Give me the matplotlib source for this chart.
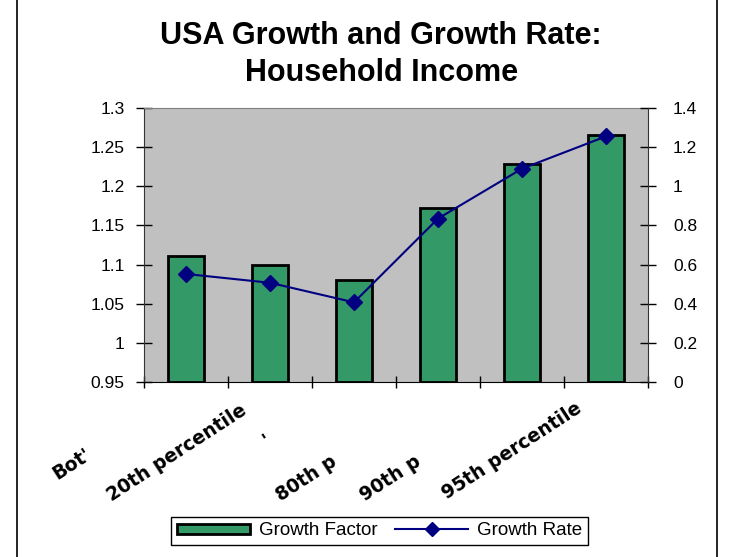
import matplotlib.pyplot as plt
import matplotlib.patches as mpatches
from matplotlib.lines import Line2D
from matplotlib import transforms

plt.rcParams['font.family'] = ['Liberation Sans', 'DejaVu Sans']

# 数据
categories = ["Bot'", "20th percentile", "'", "80th p", "90th p", "95th percentile"]
growth_factor = [1.111, 1.100, 1.080, 1.172, 1.228, 1.266]
growth_rate = [0.552, 0.507, 0.407, 0.835, 1.090, 1.255]
left_ticks = [0.95, 1, 1.05, 1.1, 1.15, 1.2, 1.25, 1.3]
right_ticks = [0, 0.2, 0.4, 0.6, 0.8, 1, 1.2, 1.4]

# 分类标签起点相对刻度的偏移(像素)
label_dx = [-129, -158, -87, -157, -157, -159]
label_dy = [-98, -120, -65, -120, -120, -118]

fig = plt.figure(figsize=(7.36, 5.57), dpi=100)
fig.patch.set_facecolor('white')

# 外框
frame = mpatches.Rectangle((17 / 736, -0.05), 700 / 736, 1.2, transform=fig.transFigure,
                           fill=False, edgecolor='black', linewidth=1.2)
fig.patches.append(frame)

ax = fig.add_axes([144 / 736, (557 - 382) / 557, 504 / 736, 274 / 557])
ax.set_facecolor('#C0C0C0')
x = list(range(len(categories)))
ax.bar(x, [v - 0.95 for v in growth_factor], bottom=0.95, width=0.42,
       color='#339966', edgecolor='black', linewidth=2, zorder=2)
ax.set_ylim(0.95, 1.3)
ax.set_xlim(-0.5, len(categories) - 0.5)
ax.set_yticks(left_ticks)
ax.set_yticklabels([f'{t:g}' for t in left_ticks])
ax.set_xticks([i + 0.5 for i in range(-1, len(categories))])
ax.set_xticklabels([])
ax.tick_params(axis='y', direction='inout', length=12, width=1, labelsize=12.5, pad=8)
ax.tick_params(axis='x', direction='inout', length=8, width=1)
ax.spines['right'].set_visible(False)
ax.spines['left'].set_color('#333333')
ax.spines['bottom'].set_color('black')
ax.spines['top'].set_color('#808080')

ax2 = ax.twinx()
ax2.plot(x, growth_rate, color='#000080', linewidth=1.5, marker='D', markersize=8,
         markerfacecolor='#000080', markeredgecolor='#000080', zorder=3)
ax2.set_ylim(0, 1.4)
ax2.set_yticks(right_ticks)
ax2.set_yticklabels([f'{t:g}' for t in right_ticks])
ax2.tick_params(axis='y', direction='inout', length=12, width=1, labelsize=12.5, pad=12)
for s in ['top', 'left', 'bottom']:
    ax2.spines[s].set_visible(False)
ax2.spines['right'].set_color('#333333')

# 斜置的分类标签
trans = transforms.blended_transform_factory(ax.transData, ax.transAxes)
for i, lab in enumerate(categories):
    ax.annotate(lab, xy=(i, 0), xycoords=trans,
                xytext=(label_dx[i], label_dy[i]), textcoords='offset pixels',
                rotation=33, ha='left', va='baseline', rotation_mode='anchor',
                fontsize=13.5, fontweight='bold', family=['DejaVu Sans'],
                annotation_clip=False)

fig.text(0.518, 0.902, 'USA Growth and Growth Rate:\nHousehold Income', ha='center', va='center',
         fontsize=22, fontweight='bold', linespacing=1.3)

handles = [mpatches.Patch(facecolor='#339966', edgecolor='black', linewidth=2),
           Line2D([], [], color='#000080', linewidth=1.5, marker='D', markersize=7)]
leg = fig.legend(handles, ['Growth Factor', 'Growth Rate'], loc='center',
                 bbox_to_anchor=(0.516, 0.047), ncol=2, fontsize=13.5, frameon=True,
                 fancybox=False, edgecolor='black', framealpha=1, handlelength=3.9,
                 handleheight=0.45, columnspacing=0.9, borderpad=0.3, handletextpad=0.5)
leg.get_frame().set_linewidth(1)

fig.savefig('out.png', dpi=100)
